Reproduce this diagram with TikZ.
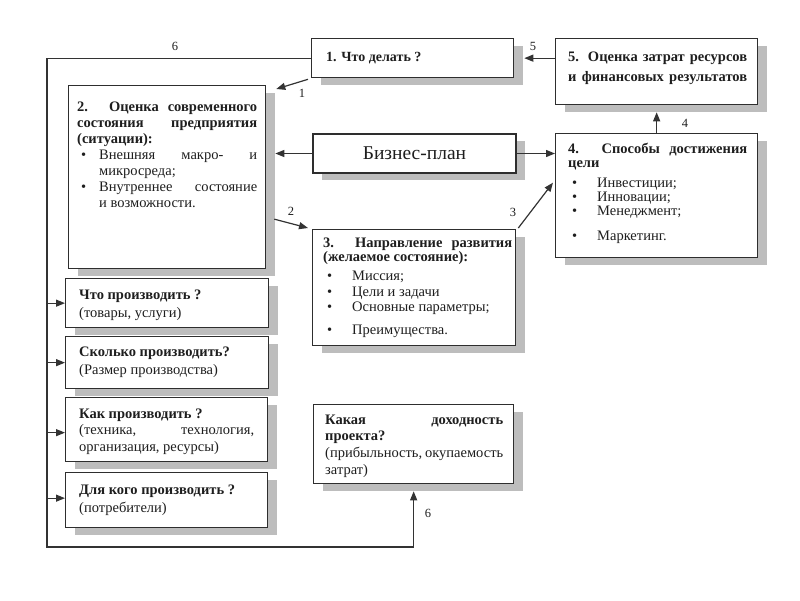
\documentclass[tikz,border=0pt]{standalone}
\usepackage{fontspec}
\setmainfont{Liberation Serif}
\usetikzlibrary{arrows.meta,shadows}
\definecolor{boxc}{HTML}{2E2E2E}
\definecolor{shadc}{HTML}{BDBDBD}
\definecolor{linec}{HTML}{333333}
\definecolor{txtc}{HTML}{1E1E1E}
\newcommand\jl[1]{\makebox[\linewidth][s]{#1}}
\newcommand\bu[2]{\makebox[#1][l]{\hspace{4pt}\textbullet}#2}
\newcommand\tfont{\fontsize{14.5}{16}\selectfont}
\begin{document}
\begin{tikzpicture}[x=1pt,y=-1pt,
  box/.style={draw=boxc, line width=1.3pt, fill=white, inner sep=0pt, anchor=north west,
    drop shadow={shadow xshift=9pt, shadow yshift=-7pt, fill=shadc, opacity=1}},
  bigbox/.style={box, line width=2.4pt, font=\fontsize{19.5}{19.5}\selectfont, text=txtc, anchor=center},
  txt/.style={anchor=base west, inner sep=0pt, text=txtc},
  arr/.style={draw=linec, line width=1.2pt, -{Triangle[length=9pt,width=7pt]}},
  lab/.style={font=\fontsize{12.5}{12.5}\selectfont, inner sep=0pt, text=txtc}]
\useasboundingbox (0,0) rectangle (800,600);

% boxes
\node[box, minimum width=202pt, minimum height=39pt] (b1) at (311,38) {};
\node[box, minimum width=202pt, minimum height=66pt] (b5) at (555,38) {};
\node[box, minimum width=197pt, minimum height=183pt] (b2) at (68,85) {};
\node[bigbox, minimum width=203pt, minimum height=39pt] (bp) at (414.5,153.5) {Бизнес-план};
\node[box, minimum width=202pt, minimum height=124pt] (b4) at (555,133) {};
\node[box, minimum width=203pt, minimum height=116pt] (b3) at (312,229) {};
\node[box, minimum width=203pt, minimum height=49pt] (q1) at (65,278) {};
\node[box, minimum width=203pt, minimum height=52pt] (q2) at (65,336) {};
\node[box, minimum width=202pt, minimum height=64pt] (q3) at (65,397) {};
\node[box, minimum width=202pt, minimum height=55pt] (q4) at (65,472) {};
\node[box, minimum width=200pt, minimum height=79pt] (pr) at (313,404) {};

% texts
\node[txt] (t1) at (326,61) {\parbox[t]{180pt}{\fontsize{14}{16}\selectfont\bfseries 1. Что делать ?}};
\node[txt] (t5) at (568,61) {\parbox[t]{179pt}{\fontsize{14.5}{20}\selectfont\bfseries
  \jl{5. Оценка затрат ресурсов}\\
  \jl{и финансовых результатов}}};
\node[txt] (t2) at (77,111) {\parbox[t]{180pt}{\tfont
  \jl{\bfseries 2. Оценка современного}\\
  \jl{\bfseries состояния предприятия}\\
  {\bfseries (ситуации):}\\
  \jl{\bu{22pt}{Внешняя макро- и}}\\
  \hspace*{22pt}микросреда;\\
  \jl{\bu{22pt}{Внутреннее состояние}}\\
  \hspace*{22pt}и возможности.}};
\node[txt] (t4) at (568,153) {\parbox[t]{179pt}{\fontsize{14.5}{14}\selectfont
  \jl{\bfseries 4. Способы достижения}\\
  {\bfseries цели}\\[6pt]
  \bu{29pt}{Инвестиции;}\\
  \bu{29pt}{Инновации;}\\
  \bu{29pt}{Менеджмент;}\\[11pt]
  \bu{29pt}{Маркетинг.}}};
\node[txt] (t3) at (323,247) {\parbox[t]{189pt}{\fontsize{14.5}{14}\selectfont
  \jl{\bfseries 3. Направление развития}\\
  {\bfseries (желаемое состояние):}\\[5pt]
  \bu{29pt}{Миссия;}\\[2pt]
  \bu{29pt}{Цели и задачи}\\[1pt]
  \bu{29pt}{Основные параметры;}\\[9pt]
  \bu{29pt}{Преимущества.}}};
\node[txt] (tq1) at (79,299) {\parbox[t]{175pt}{\fontsize{14.5}{18}\selectfont
  {\bfseries Что производить ?}\\ (товары, услуги)}};
\node[txt] (tq2) at (79,356) {\parbox[t]{175pt}{\fontsize{14.5}{18}\selectfont
  {\bfseries Сколько производить?}\\ (Размер производства)}};
\node[txt] (tq3) at (79,418) {\parbox[t]{175pt}{\fontsize{14.5}{16.5}\selectfont
  {\bfseries Как производить ?}\\ \jl{(техника, технология,}\\ организация, ресурсы)}};
\node[txt] (tq4) at (79,494) {\parbox[t]{175pt}{\fontsize{14.5}{18}\selectfont
  {\bfseries Для кого производить ?}\\ (потребители)}};
\node[txt] (tpr) at (325,424) {\parbox[t]{178pt}{\fontsize{14.5}{16.7}\selectfont
  \jl{\bfseries Какая доходность}\\ {\bfseries проекта?}\\ \jl{(прибыльность, окупаемость}\\ затрат)}};

% connectors
\coordinate (c6b) at (47,547);
\draw[arr] (b5.west |- b1.east) -- ([xshift=10pt]b1.east);
\draw[arr] (b4.north) -- ([yshift=-7pt]b5.south -| b4.north);
\draw[arr] (bp.west) -- ([xshift=9pt]b2.east |- bp.west);
\draw[arr] (bp.east) -- (b4.west |- bp.east);
\draw[arr] ([xshift=-3pt,yshift=-1pt]b1.south west) -- ([shift={(10pt,-4pt)}]b2.north east);
\draw[arr] ([shift={(8pt,-42pt)}]b2.east) -- ([shift={(-4pt,1pt)}]b3.north west);
\draw[arr] ([shift={(2pt,1pt)}]b3.north east) -- ([shift={(-2pt,13pt)}]b4.west);
\draw[arr] (b1.west) -| (c6b) -| ([yshift=-7pt]pr.south);
\draw[arr] (c6b |- q1.west) -- (q1.west);
\draw[arr] (c6b |- q2.west) -- (q2.west);
\draw[arr] ([yshift=-3pt]c6b |- q3.west) -- ([yshift=-3pt]q3.west);
\draw[arr] ([yshift=2pt]c6b |- q4.west) -- ([yshift=2pt]q4.west);

% labels
\node[lab] (l6a) at (175,46) {6};
\node[lab] (l1) at (302,93) {1};
\node[lab] (l5) at (533,46) {5};
\node[lab] (l4) at (685,123) {4};
\node[lab] (l2) at (291,211) {2};
\node[lab] (l3) at (513,212) {3};
\node[lab] (l6b) at (428,513) {6};
\end{tikzpicture}
\end{document}
